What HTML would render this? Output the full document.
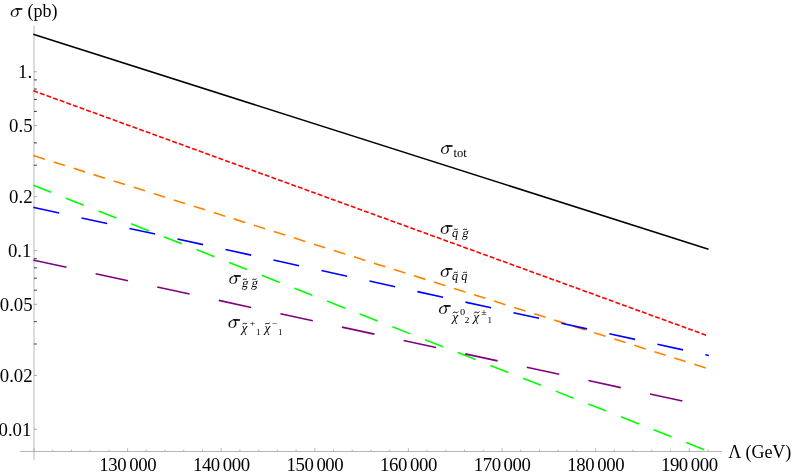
<!DOCTYPE html>
<html><head><meta charset="utf-8"><title>Cross sections</title>
<style>html,body{margin:0;padding:0;background:#fff;}body{width:792px;height:474px;overflow:hidden;font-family:"Liberation Serif",serif;}svg{display:block;will-change:transform;}</style>
</head><body>
<svg width="792" height="474" viewBox="0 0 792 474">
<rect width="792" height="474" fill="#fff"/>
<rect x="33" y="25.7" width="2" height="434.1" fill="#dcdcdc"/>
<rect x="20" y="451" width="701.9" height="1" fill="#b5b5b5"/>
<g stroke="#8a8a8a" stroke-width="0.6">
<line x1="34.00" y1="451.3" x2="34.00" y2="448.20"/>
<line x1="52.72" y1="451.3" x2="52.72" y2="449.50"/>
<line x1="71.44" y1="451.3" x2="71.44" y2="449.50"/>
<line x1="90.16" y1="451.3" x2="90.16" y2="449.50"/>
<line x1="108.88" y1="451.3" x2="108.88" y2="449.50"/>
<line x1="127.60" y1="451.3" x2="127.60" y2="448.20"/>
<line x1="146.32" y1="451.3" x2="146.32" y2="449.50"/>
<line x1="165.04" y1="451.3" x2="165.04" y2="449.50"/>
<line x1="183.76" y1="451.3" x2="183.76" y2="449.50"/>
<line x1="202.48" y1="451.3" x2="202.48" y2="449.50"/>
<line x1="221.20" y1="451.3" x2="221.20" y2="448.20"/>
<line x1="239.92" y1="451.3" x2="239.92" y2="449.50"/>
<line x1="258.64" y1="451.3" x2="258.64" y2="449.50"/>
<line x1="277.36" y1="451.3" x2="277.36" y2="449.50"/>
<line x1="296.08" y1="451.3" x2="296.08" y2="449.50"/>
<line x1="314.80" y1="451.3" x2="314.80" y2="448.20"/>
<line x1="333.52" y1="451.3" x2="333.52" y2="449.50"/>
<line x1="352.24" y1="451.3" x2="352.24" y2="449.50"/>
<line x1="370.96" y1="451.3" x2="370.96" y2="449.50"/>
<line x1="389.68" y1="451.3" x2="389.68" y2="449.50"/>
<line x1="408.40" y1="451.3" x2="408.40" y2="448.20"/>
<line x1="427.12" y1="451.3" x2="427.12" y2="449.50"/>
<line x1="445.84" y1="451.3" x2="445.84" y2="449.50"/>
<line x1="464.56" y1="451.3" x2="464.56" y2="449.50"/>
<line x1="483.28" y1="451.3" x2="483.28" y2="449.50"/>
<line x1="502.00" y1="451.3" x2="502.00" y2="448.20"/>
<line x1="520.72" y1="451.3" x2="520.72" y2="449.50"/>
<line x1="539.44" y1="451.3" x2="539.44" y2="449.50"/>
<line x1="558.16" y1="451.3" x2="558.16" y2="449.50"/>
<line x1="576.88" y1="451.3" x2="576.88" y2="449.50"/>
<line x1="595.60" y1="451.3" x2="595.60" y2="448.20"/>
<line x1="614.32" y1="451.3" x2="614.32" y2="449.50"/>
<line x1="633.04" y1="451.3" x2="633.04" y2="449.50"/>
<line x1="651.76" y1="451.3" x2="651.76" y2="449.50"/>
<line x1="670.48" y1="451.3" x2="670.48" y2="449.50"/>
<line x1="689.20" y1="451.3" x2="689.20" y2="448.20"/>
<line x1="707.92" y1="451.3" x2="707.92" y2="449.50"/>
</g>
<line x1="34" y1="429.32" x2="36.9" y2="429.32" stroke="#333" stroke-width="0.4"/>
<line x1="34" y1="375.50" x2="36.9" y2="375.50" stroke="#333" stroke-width="0.4"/>
<line x1="34" y1="344.01" x2="36.8" y2="344.01" stroke="#333" stroke-width="1"/>
<line x1="34" y1="321.67" x2="36.8" y2="321.67" stroke="#333" stroke-width="1"/>
<line x1="34" y1="304.34" x2="36.9" y2="304.34" stroke="#333" stroke-width="0.4"/>
<line x1="34" y1="290.19" x2="36.8" y2="290.19" stroke="#333" stroke-width="1"/>
<line x1="34" y1="278.22" x2="36.8" y2="278.22" stroke="#333" stroke-width="1"/>
<line x1="34" y1="267.85" x2="36.8" y2="267.85" stroke="#333" stroke-width="1"/>
<line x1="34" y1="258.70" x2="36.8" y2="258.70" stroke="#333" stroke-width="1"/>
<line x1="34" y1="250.52" x2="36.9" y2="250.52" stroke="#333" stroke-width="0.4"/>
<line x1="34" y1="196.70" x2="36.9" y2="196.70" stroke="#333" stroke-width="0.4"/>
<line x1="34" y1="165.21" x2="36.8" y2="165.21" stroke="#333" stroke-width="1"/>
<line x1="34" y1="142.87" x2="36.8" y2="142.87" stroke="#333" stroke-width="1"/>
<line x1="34" y1="125.54" x2="36.9" y2="125.54" stroke="#333" stroke-width="0.4"/>
<line x1="34" y1="111.39" x2="36.8" y2="111.39" stroke="#333" stroke-width="1"/>
<line x1="34" y1="99.42" x2="36.8" y2="99.42" stroke="#333" stroke-width="1"/>
<line x1="34" y1="89.05" x2="36.8" y2="89.05" stroke="#333" stroke-width="1"/>
<line x1="34" y1="79.90" x2="36.8" y2="79.90" stroke="#333" stroke-width="1"/>
<line x1="34" y1="71.72" x2="36.9" y2="71.72" stroke="#333" stroke-width="0.4"/>
<g fill="none" stroke-width="1.6" stroke-linecap="butt">
<line x1="34" y1="34.5" x2="708.5" y2="249.2" stroke="#000000"/>
<line x1="33.3" y1="34.28" x2="34.3" y2="34.60" stroke="#000000"/>
<line x1="34" y1="91.0" x2="707.0" y2="335.5" stroke="#ff0000" stroke-dasharray="4.95 2.088" stroke-dashoffset="0.75"/>
<line x1="33.3" y1="90.75" x2="34.3" y2="91.11" stroke="#ff0000"/>
<line x1="34" y1="155.8" x2="706.5" y2="368.14" stroke="#ff8000" stroke-dasharray="11.9 9.1" stroke-dashoffset="0.5"/>
<line x1="33.3" y1="155.58" x2="34.3" y2="155.89" stroke="#ff8000"/>
<line x1="34" y1="185.6" x2="704.6" y2="449.8" stroke="#00ff00" stroke-dasharray="19.3 15.8" stroke-dashoffset="0.9"/>
<line x1="33.3" y1="185.32" x2="34.3" y2="185.72" stroke="#00ff00"/>
<line x1="34" y1="207.5" x2="708.8" y2="355.55" stroke="#0000ff" stroke-dasharray="26.3 22.83" stroke-dashoffset="0.5"/>
<line x1="33.3" y1="207.35" x2="34.3" y2="207.57" stroke="#0000ff"/>
<line x1="34" y1="260.3" x2="683.0" y2="401.1" stroke="#800080" stroke-dasharray="33.2 29.83" stroke-dashoffset="0"/>
<line x1="33.3" y1="260.15" x2="34.3" y2="260.37" stroke="#800080"/>
</g>
<g font-family="Liberation Serif, serif" font-size="18.8" fill="#000">
<text x="99.30" y="470.7" letter-spacing="-0.4">130<tspan dx="2.9">000</tspan></text>
<text x="192.90" y="470.7" letter-spacing="-0.4">140<tspan dx="2.9">000</tspan></text>
<text x="286.50" y="470.7" letter-spacing="-0.4">150<tspan dx="2.9">000</tspan></text>
<text x="380.10" y="470.7" letter-spacing="-0.4">160<tspan dx="2.9">000</tspan></text>
<text x="473.70" y="470.7" letter-spacing="-0.4">170<tspan dx="2.9">000</tspan></text>
<text x="567.30" y="470.7" letter-spacing="-0.4">180<tspan dx="2.9">000</tspan></text>
<text x="660.90" y="470.7" letter-spacing="-0.4">190<tspan dx="2.9">000</tspan></text>
<text x="32.1" y="78.32" text-anchor="end">1.</text>
<text x="32.6" y="132.14" text-anchor="end">0.5</text>
<text x="32.6" y="203.30" text-anchor="end">0.2</text>
<text x="31.4" y="257.12" text-anchor="end">0.1</text>
<text x="32.6" y="310.94" text-anchor="end">0.05</text>
<text x="32.6" y="382.10" text-anchor="end">0.02</text>
<text x="31.4" y="435.92" text-anchor="end">0.01</text>
</g>
<g font-family="Liberation Serif, serif" font-size="18" fill="#000">
</g><text transform="translate(10.01,17) scale(1.1,0.95)" font-family="Liberation Serif, serif" font-size="18" font-style="italic" stroke="#fff" stroke-width="0.18" paint-order="fill stroke">σ</text><path d="M14.40,8.05 L22.45,8.20 L22.30,9.70 L17.00,9.75 Z" fill="#000"/><g font-family="Liberation Serif, serif" font-size="18" fill="#000">
<text x="27.5" y="16.7">(pb)</text>
<text x="728.3" y="457.7">Λ (GeV)</text>
</g>
<g fill="#000">
<text transform="translate(440.31,154) scale(1.1,0.95)" font-family="Liberation Serif, serif" font-size="18" font-style="italic" stroke="#fff" stroke-width="0.18" paint-order="fill stroke">σ</text><path d="M444.70,145.05 L452.75,145.20 L452.60,146.70 L447.30,146.75 Z" fill="#000"/>
<text x="453.57" y="156.5" font-family="Liberation Serif, serif" font-size="12.6">tot</text>
<text transform="translate(440.11,234) scale(1.1,0.95)" font-family="Liberation Serif, serif" font-size="18" font-style="italic" stroke="#fff" stroke-width="0.18" paint-order="fill stroke">σ</text><path d="M444.50,225.05 L452.55,225.20 L452.40,226.70 L447.10,226.75 Z" fill="#000"/>
<text x="451.99" y="236.7" font-family="Liberation Serif, serif" font-size="12.3" font-style="italic">q</text>
<path d="M454.05,229.62 C454.71,229.05 455.37,229.27 455.70,229.40 S456.69,229.75 457.35,229.18" fill="none" stroke="#000" stroke-width="1.0" stroke-linecap="round"/>
<text transform="translate(461.64,237) skewX(-13)" font-family="Liberation Serif, serif" font-size="12.3">g</text>
<path d="M463.25,229.62 C463.95,229.05 464.65,229.27 465.00,229.40 S466.05,229.75 466.75,229.18" fill="none" stroke="#000" stroke-width="1.0" stroke-linecap="round"/>
<text transform="translate(440.11,277) scale(1.1,0.95)" font-family="Liberation Serif, serif" font-size="18" font-style="italic" stroke="#fff" stroke-width="0.18" paint-order="fill stroke">σ</text><path d="M444.50,268.05 L452.55,268.20 L452.40,269.70 L447.10,269.75 Z" fill="#000"/>
<text x="451.99" y="279.8" font-family="Liberation Serif, serif" font-size="12.3" font-style="italic">q</text>
<path d="M454.05,272.62 C454.71,272.05 455.37,272.27 455.70,272.40 S456.69,272.75 457.35,272.18" fill="none" stroke="#000" stroke-width="1.0" stroke-linecap="round"/>
<text x="461.19" y="279.8" font-family="Liberation Serif, serif" font-size="12.3" font-style="italic">q</text>
<path d="M463.25,272.62 C463.91,272.05 464.57,272.27 464.90,272.40 S465.89,272.75 466.55,272.18" fill="none" stroke="#000" stroke-width="1.0" stroke-linecap="round"/>
<text transform="translate(228.51,284) scale(1.1,0.95)" font-family="Liberation Serif, serif" font-size="18" font-style="italic" stroke="#fff" stroke-width="0.18" paint-order="fill stroke">σ</text><path d="M232.90,275.05 L240.95,275.20 L240.80,276.70 L235.50,276.75 Z" fill="#000"/>
<text transform="translate(241.44,287) skewX(-13)" font-family="Liberation Serif, serif" font-size="12.3">g</text>
<path d="M243.05,279.52 C243.75,278.95 244.45,279.17 244.80,279.30 S245.85,279.65 246.55,279.08" fill="none" stroke="#000" stroke-width="1.0" stroke-linecap="round"/>
<text transform="translate(251.04,287) skewX(-13)" font-family="Liberation Serif, serif" font-size="12.3">g</text>
<path d="M252.65,279.52 C253.35,278.95 254.05,279.17 254.40,279.30 S255.45,279.65 256.15,279.08" fill="none" stroke="#000" stroke-width="1.0" stroke-linecap="round"/>
<text transform="translate(438.31,314) scale(1.1,0.95)" font-family="Liberation Serif, serif" font-size="18" font-style="italic" stroke="#fff" stroke-width="0.18" paint-order="fill stroke">σ</text><path d="M442.70,305.05 L450.75,305.20 L450.60,306.70 L445.30,306.75 Z" fill="#000"/>
<text x="452.28" y="320.6" font-family="Liberation Serif, serif" font-size="13.5" font-style="italic">χ</text>
<path d="M453.00,312.95 C454.00,311.52 455.00,312.07 455.50,312.40 S457.00,313.28 458.00,311.85" fill="none" stroke="#000" stroke-width="1.0" stroke-linecap="round"/>
<text transform="translate(460.01,315.4) scale(1.15,1)" font-family="Liberation Serif, serif" font-size="9.0">0</text>
<text transform="translate(464.56,323.3) scale(1.1,1)" font-family="Liberation Serif, serif" font-size="9.0">2</text>
<text x="473.28" y="320.6" font-family="Liberation Serif, serif" font-size="13.5" font-style="italic">χ</text>
<path d="M474.30,312.95 C475.28,311.52 476.26,312.07 476.75,312.40 S478.22,313.28 479.20,311.85" fill="none" stroke="#000" stroke-width="1.0" stroke-linecap="round"/>
<text transform="translate(481.18,315.4) scale(1.1,1)" font-family="Liberation Serif, serif" font-size="9.0">±</text>
<text x="487.51" y="323.3" font-family="Liberation Serif, serif" font-size="9.0">1</text>
<text transform="translate(227.71,328) scale(1.1,0.95)" font-family="Liberation Serif, serif" font-size="18" font-style="italic" stroke="#fff" stroke-width="0.18" paint-order="fill stroke">σ</text><path d="M232.10,319.05 L240.15,319.20 L240.00,320.70 L234.70,320.75 Z" fill="#000"/>
<text x="241.58" y="331.8" font-family="Liberation Serif, serif" font-size="13.5" font-style="italic">χ</text>
<path d="M242.95,323.72 C243.71,323.15 244.47,323.37 244.85,323.50 S245.99,323.85 246.75,323.28" fill="none" stroke="#000" stroke-width="1.0" stroke-linecap="round"/>
<text transform="translate(249.50,326.0) scale(1.1,1)" font-family="Liberation Serif, serif" font-size="9.0">+</text>
<text x="255.91" y="334.7" font-family="Liberation Serif, serif" font-size="9.0">1</text>
<text x="264.38" y="331.8" font-family="Liberation Serif, serif" font-size="13.5" font-style="italic">χ</text>
<path d="M265.55,323.72 C266.31,323.15 267.07,323.37 267.45,323.50 S268.59,323.85 269.35,323.28" fill="none" stroke="#000" stroke-width="1.0" stroke-linecap="round"/>
<text transform="translate(271.81,325.9) scale(1.1,1)" font-family="Liberation Serif, serif" font-size="9.0">−</text>
<text x="278.11" y="334.7" font-family="Liberation Serif, serif" font-size="9.0">1</text>
</g>
</svg>
</body></html>
